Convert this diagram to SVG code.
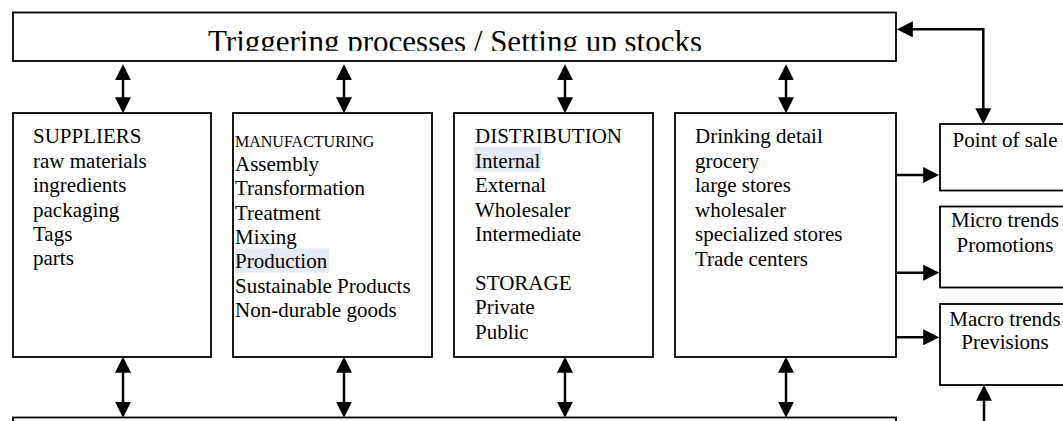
<svg xmlns="http://www.w3.org/2000/svg" width="1063" height="421" viewBox="0 0 1063 421">
  <style>
    .box { fill: #fff; stroke: #000; stroke-width: 1.8; }
    .txt { font-family: "Liberation Serif", "Times New Roman", serif; font-size: 21px; fill: #000; }
    .small { font-size: 16px; }
    .title { font-size: 31px; }
    .mid { text-anchor: middle; }
    .hl { fill: #e6eaf5; }
    .conn { fill: none; stroke: #000; stroke-width: 2.5; }
  </style>
  <defs>
    <marker id="head" markerUnits="userSpaceOnUse" markerWidth="16" markerHeight="16"
            viewBox="0 0 15 15" refX="12" refY="7.5" orient="auto-start-reverse">
      <path d="M0,0 L15,7.5 L0,15 Z" fill="#000"/>
    </marker>
    <clipPath id="titleClip">
      <rect x="13" y="12" width="883" height="38.7"/>
    </clipPath>
  </defs>

  <rect width="1063" height="421" fill="#fff"/>

  <!-- top bar -->
  <g id="triggering">
    <rect class="box" x="13" y="12.5" width="883" height="48.5"/>
    <text class="txt title mid" x="455" y="52" clip-path="url(#titleClip)">Triggering processes / Setting up stocks</text>
  </g>

  <!-- bottom bar (continues past the lower edge) -->
  <g id="bottom-bar">
    <rect class="box" x="13" y="417.5" width="883" height="20"/>
  </g>

  <g id="suppliers">
    <rect class="box" x="13" y="113" width="198" height="244"/>
    <text class="txt" x="33" y="143.3">SUPPLIERS</text>
    <text class="txt" x="33" y="167.7">raw materials</text>
    <text class="txt" x="33" y="192.1">ingredients</text>
    <text class="txt" x="33" y="216.5">packaging</text>
    <text class="txt" x="33" y="240.9">Tags</text>
    <text class="txt" x="33" y="265.3">parts</text>
  </g>

  <g id="manufacturing">
    <rect class="box" x="233" y="113" width="199" height="244"/>
    <rect class="hl" x="235" y="248.3" width="94" height="24.4"/>
    <text class="txt small" x="235" y="146.5">MANUFACTURING</text>
    <text class="txt" x="235" y="170.7">Assembly</text>
    <text class="txt" x="235" y="195.1">Transformation</text>
    <text class="txt" x="235" y="219.5">Treatment</text>
    <text class="txt" x="235" y="243.9">Mixing</text>
    <text class="txt" x="235" y="268.3">Production</text>
    <text class="txt" x="235" y="292.7">Sustainable Products</text>
    <text class="txt" x="235" y="317.1">Non-durable goods</text>
  </g>

  <g id="distribution">
    <rect class="box" x="454" y="113" width="199" height="244"/>
    <rect class="hl" x="473.5" y="147" width="67.5" height="24.6"/>
    <text class="txt" x="475" y="143.3">DISTRIBUTION</text>
    <text class="txt" x="475" y="167.7">Internal</text>
    <text class="txt" x="475" y="192.1">External</text>
    <text class="txt" x="475" y="216.5">Wholesaler</text>
    <text class="txt" x="475" y="240.9">Intermediate</text>
    <text class="txt" x="475" y="289.7">STORAGE</text>
    <text class="txt" x="475" y="314.1">Private</text>
    <text class="txt" x="475" y="338.5">Public</text>
  </g>

  <g id="retail">
    <rect class="box" x="675" y="113" width="221" height="244"/>
    <text class="txt" x="695" y="143.3">Drinking detail</text>
    <text class="txt" x="695" y="167.8">grocery</text>
    <text class="txt" x="695" y="192.3">large stores</text>
    <text class="txt" x="695" y="216.8">wholesaler</text>
    <text class="txt" x="695" y="241.3">specialized stores</text>
    <text class="txt" x="695" y="265.8">Trade centers</text>
  </g>

  <g id="point-of-sale">
    <rect class="box" x="940" y="124" width="135" height="66.5"/>
    <text class="txt mid" x="1005" y="146.5">Point of sale</text>
  </g>

  <g id="micro-trends">
    <rect class="box" x="940" y="206.5" width="135" height="81"/>
    <text class="txt mid" x="1005" y="227.3">Micro trends</text>
    <text class="txt mid" x="1005" y="251.7">Promotions</text>
  </g>

  <g id="macro-trends">
    <rect class="box" x="940" y="304" width="135" height="81"/>
    <text class="txt mid" x="1005" y="325.5">Macro trends</text>
    <text class="txt mid" x="1005" y="349">Previsions</text>
  </g>

  <g id="connectors">
    <!-- top bar to columns -->
    <line class="conn" x1="123" y1="67.5" x2="123" y2="110" marker-start="url(#head)" marker-end="url(#head)"/>
    <line class="conn" x1="344" y1="67.5" x2="344" y2="110" marker-start="url(#head)" marker-end="url(#head)"/>
    <line class="conn" x1="565" y1="67.5" x2="565" y2="110" marker-start="url(#head)" marker-end="url(#head)"/>
    <line class="conn" x1="786" y1="67.5" x2="786" y2="110" marker-start="url(#head)" marker-end="url(#head)"/>
    <!-- columns to bottom bar -->
    <line class="conn" x1="123" y1="360" x2="123" y2="414.5" marker-start="url(#head)" marker-end="url(#head)"/>
    <line class="conn" x1="344" y1="360" x2="344" y2="414.5" marker-start="url(#head)" marker-end="url(#head)"/>
    <line class="conn" x1="565" y1="360" x2="565" y2="414.5" marker-start="url(#head)" marker-end="url(#head)"/>
    <line class="conn" x1="786" y1="360" x2="786" y2="414.5" marker-start="url(#head)" marker-end="url(#head)"/>
    <!-- retail column to the right-hand boxes -->
    <line class="conn" x1="896" y1="175" x2="936" y2="175" marker-end="url(#head)"/>
    <line class="conn" x1="896" y1="272.7" x2="936" y2="272.7" marker-end="url(#head)"/>
    <line class="conn" x1="896" y1="337.3" x2="936" y2="337.3" marker-end="url(#head)"/>
    <!-- point of sale feedback to top bar -->
    <path class="conn" d="M900,29.3 H983.3 V121" marker-start="url(#head)" marker-end="url(#head)"/>
    <!-- rising arrow into macro trends -->
    <line class="conn" x1="984" y1="430" x2="984" y2="388" marker-end="url(#head)"/>
  </g>
</svg>
